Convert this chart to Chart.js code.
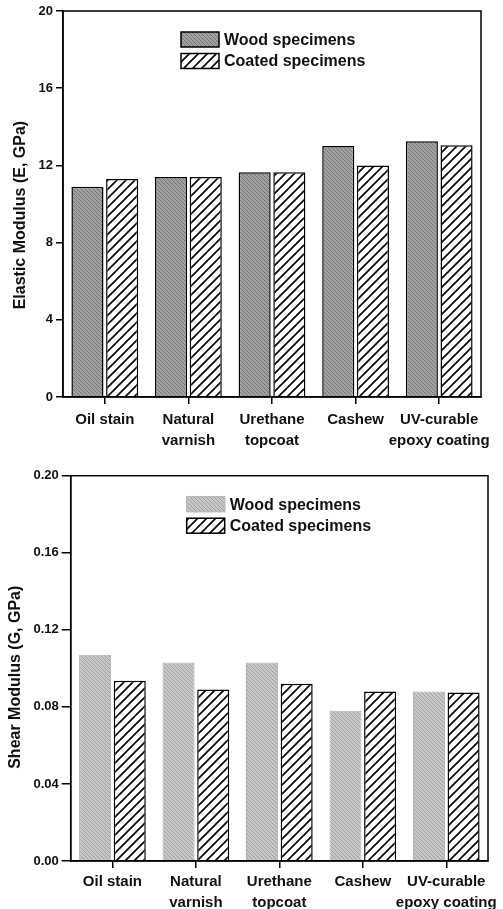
<!DOCTYPE html>
<html>
<head>
<meta charset="utf-8">
<script src="https://cdn.jsdelivr.net/npm/chart.js@4.4.1/dist/chart.umd.min.js"></script>
<style>
  html, body { margin: 0; padding: 0; background: #fff; }
  canvas { display: block; }
</style>
</head>
<body>
<canvas id="c1" width="503" height="455"></canvas>
<canvas id="c2" width="503" height="454"></canvas>
<script>
// ---- data ----
const categories = ['Oil stain', ['Natural', 'varnish'], ['Urethane', 'topcoat'], 'Cashew', ['UV-curable', 'epoxy coating']];
const seriesNames = ['Wood specimens', 'Coated specimens'];
const elasticWood = [10.9, 11.4, 11.65, 13.0, 13.25];
const elasticCoated = [11.3, 11.4, 11.65, 12.0, 13.05];
const shearWood = [0.107, 0.103, 0.103, 0.078, 0.088];
const shearCoated = [0.0935, 0.089, 0.092, 0.088, 0.0875];
const elasticTicks = [0, 4, 8, 12, 16, 20];
const shearTicks = [0.00, 0.04, 0.08, 0.12, 0.16, 0.20];
const elasticTitle = 'Elastic Modulus (E, GPa)';
const shearTitle = 'Shear Modulus (G, GPa)';

const FONT = '"Liberation Sans", Arial, Helvetica, sans-serif';

function hatch(size, bg, fg, lw, dir) {
  const c = document.createElement('canvas');
  c.width = size; c.height = size;
  const g = c.getContext('2d');
  g.fillStyle = bg; g.fillRect(0, 0, size, size);
  g.strokeStyle = fg; g.lineWidth = lw; g.lineCap = 'square';
  g.beginPath();
  if (dir === '/') {
    g.moveTo(0, size); g.lineTo(size, 0);
    g.moveTo(-1, 1); g.lineTo(1, -1);
    g.moveTo(size - 1, size + 1); g.lineTo(size + 1, size - 1);
  } else {
    g.moveTo(0, 0); g.lineTo(size, size);
    g.moveTo(-1, size - 1); g.lineTo(1, size + 1);
    g.moveTo(size - 1, -1); g.lineTo(size + 1, 1);
  }
  g.stroke();
  return document.createElement('canvas').getContext('2d').createPattern(c, 'repeat');
}

const woodDark = hatch(4, '#a0a0a0', '#767676', 1, '\\');
const woodLight = hatch(4, '#c6c6c6', '#a2a2a2', 1, '\\');
const coatedPat = hatch(9, '#ffffff', '#000000', 1.6, '/');

const framePlugin = {
  id: 'frame',
  afterDraw(chart) {
    const {ctx, chartArea: a} = chart;
    ctx.save();
    ctx.strokeStyle = '#000';
    ctx.lineWidth = 1.5;
    ctx.strokeRect(a.left, a.top, a.right - a.left, a.bottom - a.top);
    ctx.restore();
  }
};

const boxLegend = {
  id: 'boxLegend',
  afterDatasetsDraw(chart, args, o) {
    const {ctx, chartArea: a} = chart;
    ctx.save();
    chart.data.datasets.forEach((ds, i) => {
      const x = a.left + o.dx;
      const y = a.top + o.dy + i * o.gap;
      ctx.fillStyle = ds.backgroundColor;
      ctx.fillRect(x, y, o.w, o.h);
      ctx.lineWidth = 1.5;
      ctx.strokeStyle = o.borders[i];
      ctx.strokeRect(x, y, o.w, o.h);
      ctx.fillStyle = '#111';
      ctx.font = 'bold 16px ' + FONT;
      ctx.textBaseline = 'middle';
      ctx.textAlign = 'left';
      ctx.fillText(ds.label, x + o.w + 5, y + o.h / 2 + 1);
    });
    ctx.restore();
  }
};

function makeChart(id, cfg) {
  return new Chart(document.getElementById(id), {
    type: 'bar',
    data: {
      labels: categories,
      datasets: [
        { label: seriesNames[0], data: cfg.wood, backgroundColor: cfg.woodPat, borderColor: cfg.woodBorder, borderWidth: cfg.woodBW },
        { label: seriesNames[1], data: cfg.coated, backgroundColor: coatedPat, borderColor: '#000', borderWidth: 1.5 }
      ]
    },
    plugins: [framePlugin, boxLegend],
    options: {
      responsive: false,
      animation: false,
      devicePixelRatio: 1,
      categoryPercentage: 0.83,
      barPercentage: 0.925,
      layout: { padding: { top: cfg.top, right: cfg.right, left: 0, bottom: 0 } },
      plugins: {
        legend: { display: false },
        tooltip: { enabled: false },
        boxLegend: { dx: cfg.legDx, dy: 21, gap: 21.5, w: 38, h: 15, borders: cfg.legBorders }
      },
      scales: {
        x: {
          grid: { offset: false, drawOnChartArea: false, drawTicks: true, tickLength: 7, color: '#000', lineWidth: 1.5 },
          border: { display: true, color: '#000', width: 1.5 },
          ticks: { color: '#111', font: { family: FONT, size: 15, weight: 'bold', lineHeight: 1.4 }, padding: cfg.xpad, maxRotation: 0, autoSkip: false },
          afterFit: (s) => { s.height = cfg.xh; }
        },
        y: {
          min: cfg.ticks[0],
          max: cfg.ticks[cfg.ticks.length - 1],
          afterBuildTicks: (s) => { s.ticks = cfg.ticks.map(v => ({ value: v })); },
          grid: { drawOnChartArea: false, drawTicks: true, tickLength: cfg.tl, color: '#000', lineWidth: 1.5 },
          border: { display: true, color: '#000', width: 1.5 },
          ticks: { color: '#111', font: { family: FONT, size: 13, weight: 'bold' }, padding: 3,
                   callback: (v) => cfg.fmt(v) },
          title: { display: true, text: cfg.title, color: '#111', font: { family: FONT, size: 16, weight: 'bold' }, padding: { top: cfg.titlePad, bottom: 0 } },
          afterFit: (s) => { s.width = cfg.yw; }
        }
      }
    }
  });
}

makeChart('c1', {
  wood: elasticWood, coated: elasticCoated, woodPat: woodDark, woodBorder: '#000', woodBW: 1.5,
  ticks: elasticTicks, fmt: (v) => String(v), title: elasticTitle + '     ',
  top: 11, right: 22, xh: 58, yw: 63, tl: 7, titlePad: 11, legDx: 118, xpad: 5,
  legBorders: ['#000', '#000']
});

makeChart('c2', {
  wood: shearWood, coated: shearCoated, woodPat: woodLight, woodBorder: '#b0b0b0', woodBW: 1,
  ticks: shearTicks, fmt: (v) => v.toFixed(2), title: shearTitle + '    ',
  top: 20.7, right: 15, xh: 48, yw: 70.7, tl: 9, titlePad: 6.4, legDx: 116, xpad: 3,
  legBorders: ['#b8b8b8', '#000']
});
</script>
</body>
</html>
